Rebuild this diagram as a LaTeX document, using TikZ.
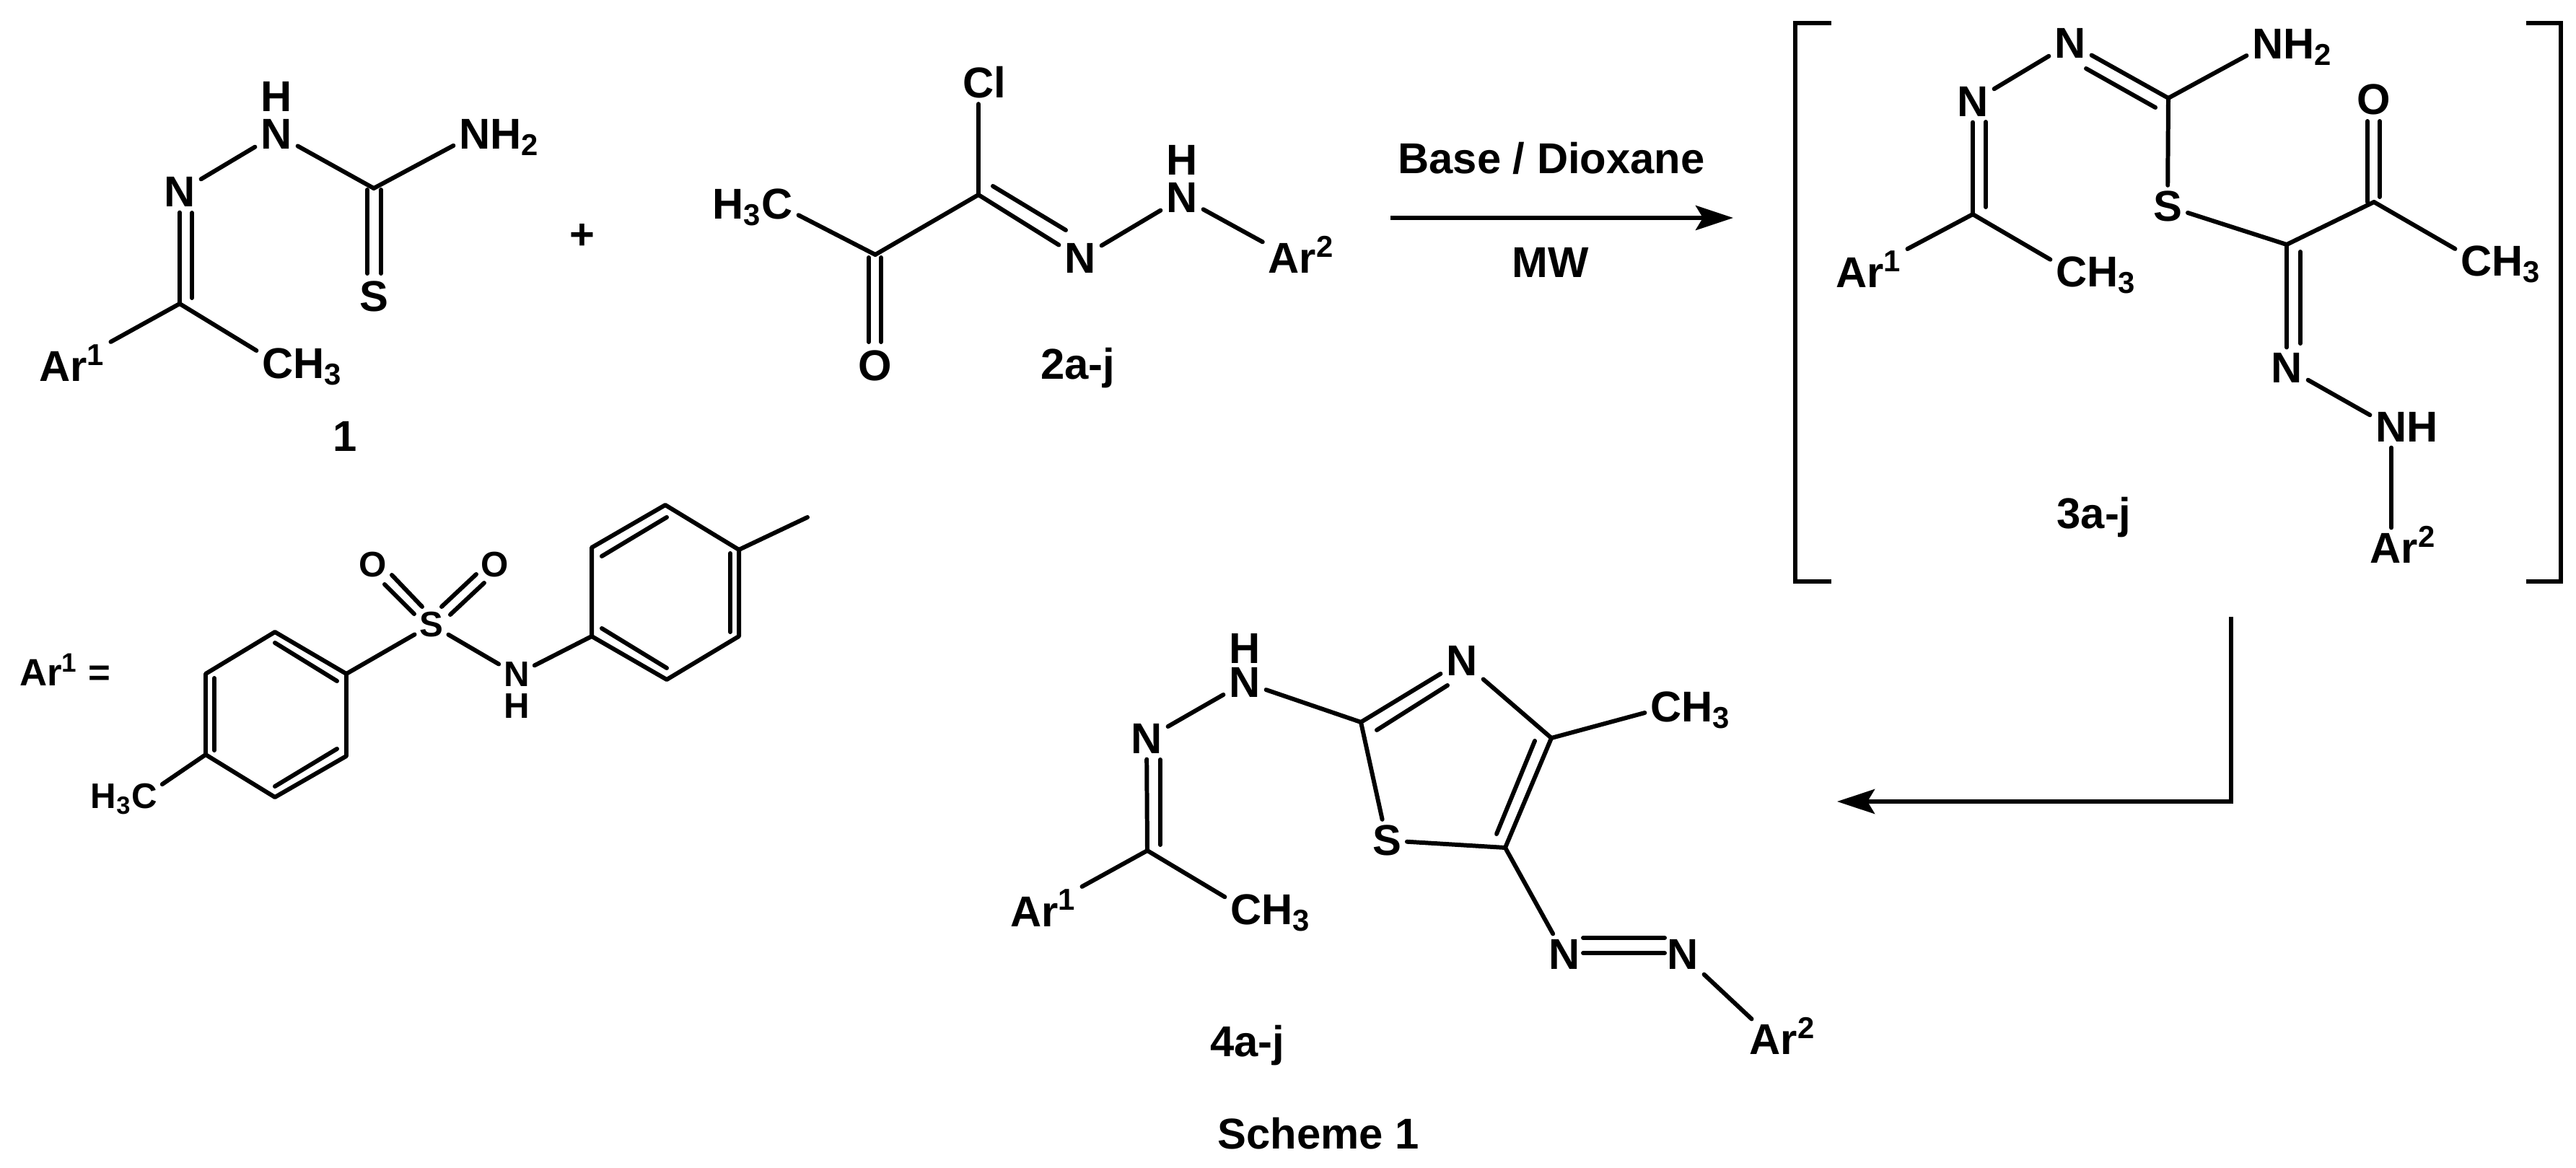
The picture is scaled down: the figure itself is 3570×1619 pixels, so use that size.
\documentclass[tikz,border=0pt]{standalone}
\usepackage{fontspec}
\setmainfont{Liberation Sans}
\usetikzlibrary{arrows.meta}
\newcommand{\aft}[1]{\smash{\rlap{#1}}}
\newcommand{\bef}[1]{\smash{\llap{#1}}}
\newcommand{\sbs}[1]{\textsubscript{#1}}
\newcommand{\sps}[1]{\textsuperscript{#1}}
\tikzset{
    atom/.style={inner sep=0.08cm, outer sep=0pt, font=\fontsize{17}{20}\selectfont\bfseries},
    atomsm/.style={inner sep=0.07cm, outer sep=0pt, font=\fontsize{14}{17}\selectfont\bfseries},
    hatom/.style={atom, inner sep=0pt},
    hatomsm/.style={atomsm, inner sep=0pt},
    arone/.style={atom, anchor=base west},
    lbl/.style={inner sep=0pt, anchor=base, font=\fontsize{17}{20}\selectfont\bfseries},
    bond/.style={line width=1.7pt, line cap=round, line join=round},
    rxn/.style={line width=1.7pt, -{Stealth[length=0.52cm, width=0.34cm, inset=0.1cm]}}
}
\begin{document}
\begin{tikzpicture}[x=0.01cm, y=-0.01cm]
    \useasboundingbox (0,0) rectangle (3570,1619);

    % thiosemicarbazone 1
    \coordinate (ca) at (249,421);
    \coordinate (cb) at (518,261);
    \node[atom] (na) at (249,266) {N};
    \node[atom] (nb) at (383,186) {N};
    \node[hatom] (hb) at (383,134) {H};
    \node[atom] (nc) at (658,186) {N\aft{H\sbs{2}}};
    \node[atom] (sa) at (518,411) {S};
    \node[arone] (ara) at (46,529) {Ar\sps{1}};
    \node[atom] (mea) at (385,504) {C\aft{H\sbs{3}}};
    \node[lbl] (la) at (478,626) {1};
    \node[lbl] (plus) at (807,346) {+};
    \draw[bond] (ca) -- (na);
    \coordinate (da) at (266,295);
    \coordinate (db) at (266,413);
    \draw[bond] (da) -- (db);
    \draw[bond] (na) -- (nb);
    \draw[bond] (nb) -- (cb);
    \draw[bond] (cb) -- (nc);
    \coordinate (dc) at (509,263);
    \coordinate (dd) at (509,379);
    \coordinate (de) at (528,263);
    \coordinate (df) at (528,379);
    \draw[bond] (dc) -- (dd);
    \draw[bond] (de) -- (df);
    \draw[bond] (ca) -- (ara);
    \draw[bond] (ca) -- (mea);

    % hydrazonoyl chloride 2
    \coordinate (cc) at (1213,353);
    \coordinate (cd) at (1356,270);
    \node[atom] (mec) at (1077,283) {\bef{H\sbs{3}}C};
    \node[atom] (cl) at (1356,115) {C\aft{l}};
    \node[atom] (ob) at (1213,507) {O};
    \node[atom] (nd) at (1497,358) {N};
    \node[atom] (ne) at (1638,274) {N};
    \node[hatom] (he) at (1638,222) {H};
    \node[atom] (arb) at (1791,358) {Ar\aft{\sps{2}}};
    \node[lbl] (lb) at (1494,526) {2a-j};
    \draw[bond] (mec) -- (cc);
    \draw[bond] (cc) -- (cd);
    \draw[bond] (cd) -- (cl);
    \draw[bond] (cd) -- (nd);
    \coordinate (dg) at (1376,258);
    \coordinate (dh) at (1477,319);
    \draw[bond] (dg) -- (dh);
    \draw[bond] (nd) -- (ne);
    \draw[bond] (ne) -- (arb);
    \coordinate (di) at (1204,357);
    \coordinate (dj) at (1204,474);
    \coordinate (dk) at (1221,357);
    \coordinate (dl) at (1221,474);
    \draw[bond] (di) -- (dj);
    \draw[bond] (dk) -- (dl);

    % first arrow
    \coordinate (ra) at (1927,302);
    \coordinate (rb) at (2402,302);
    \draw[rxn] (ra) -- (rb);
    \node[lbl] (base) at (2150,241) {Base / Dioxane};
    \node[lbl] (mw) at (2149,385) {MW};

    % intermediate 3 in brackets
    \coordinate (bra) at (2538,32);
    \coordinate (brb) at (2488,806);
    \coordinate (brc) at (2538,806);
    \coordinate (brd) at (3501,32);
    \coordinate (bre) at (3549,806);
    \coordinate (brf) at (3501,806);
    \draw[bond, line cap=butt, line join=miter] (bra) -| (brb) -- (brc);
    \draw[bond, line cap=butt, line join=miter] (brd) -| (bre) -- (brf);
    \coordinate (ce) at (2734,297);
    \coordinate (cf) at (3005,136);
    \coordinate (cg) at (3169,339);
    \coordinate (ch) at (3290,280);
    \node[atom] (nf) at (2734,141) {N};
    \node[atom] (ng) at (2869,60) {N};
    \node[atom] (nh) at (3143,61) {N\aft{H\sbs{2}}};
    \node[atom] (sb) at (3004,286) {S};
    \node[atom] (oc) at (3290,138) {O};
    \node[atom] (med) at (3432,362) {C\aft{H\sbs{3}}};
    \node[atom] (ni) at (3169,510) {N};
    \node[atom] (nj) at (3314,592) {N\aft{H}};
    \node[atom] (arc) at (3318,760) {Ar\aft{\sps{2}}};
    \node[arone] (ard) at (2536,399) {Ar\sps{1}};
    \node[atom] (mee) at (2871,377) {C\aft{H\sbs{3}}};
    \node[lbl] (lc) at (2902,732) {3a-j};
    \draw[bond] (ce) -- (nf);
    \coordinate (dm) at (2752,169);
    \coordinate (dn) at (2752,287);
    \draw[bond] (dm) -- (dn);
    \draw[bond] (nf) -- (ng);
    \draw[bond] (ng) -- (cf);
    \coordinate (do) at (2891,95);
    \coordinate (dp) at (2987,149);
    \draw[bond] (do) -- (dp);
    \draw[bond] (cf) -- (nh);
    \draw[bond] (cf) -- (sb);
    \draw[bond] (sb) -- (cg);
    \draw[bond] (cg) -- (ch);
    \draw[bond] (cg) -- (ni);
    \coordinate (dq) at (3188,349);
    \coordinate (dr) at (3188,476);
    \draw[bond] (dq) -- (dr);
    \coordinate (ds) at (3281,168);
    \coordinate (dt) at (3281,280);
    \coordinate (du) at (3298,168);
    \coordinate (dv) at (3298,273);
    \draw[bond] (ds) -- (dt);
    \draw[bond] (du) -- (dv);
    \draw[bond] (ch) -- (med);
    \draw[bond] (ni) -- (nj);
    \draw[bond] (nj.south) -- (nj.south |- arc.north);
    \draw[bond] (ce) -- (ard);
    \draw[bond] (ce) -- (mee);

    % second arrow
    \coordinate (rc) at (3092,855);
    \coordinate (rd) at (2546,1111);
    \draw[rxn] (rc) |- (rd);

    % definition of Ar1
    \node[atomsm, anchor=base west, font=\fontsize{15}{18}\selectfont\bfseries] (arx) at (20,950) {Ar\sps{1} =};
    \coordinate (ra1) at (381,876);
    \coordinate (ra2) at (480,934);
    \coordinate (ra3) at (480,1048);
    \coordinate (ra4) at (381,1105);
    \coordinate (ra5) at (285,1046);
    \coordinate (ra6) at (285,934);
    \draw[bond] (ra1) -- (ra2) -- (ra3) -- (ra4) -- (ra5) -- (ra6) -- cycle;
    \coordinate (ia1) at (381,891);
    \coordinate (ia2) at (467,944);
    \coordinate (ia3) at (297,940);
    \coordinate (ia4) at (297,1040);
    \coordinate (ia5) at (381,1090);
    \coordinate (ia6) at (467,1038);
    \draw[bond] (ia1) -- (ia2);
    \draw[bond] (ia3) -- (ia4);
    \draw[bond] (ia5) -- (ia6);
    \node[atomsm] (mef) at (200,1104) {\bef{H\sbs{3}}C};
    \node[atomsm] (sc) at (598,866) {S};
    \node[atomsm] (od) at (517,783) {O};
    \node[atomsm] (oe) at (686,783) {O};
    \node[atomsm] (nk) at (716,935) {N};
    \node[hatomsm] (hk) at (716,979) {H};
    \draw[bond] (ra5) -- (mef);
    \draw[bond] (ra2) -- (sc);
    \draw[bond] (sc) -- (nk);
    \coordinate (ea) at (533,810);
    \coordinate (eb) at (574,851);
    \coordinate (ec) at (543,797);
    \coordinate (ed) at (585,841);
    \coordinate (ee) at (612,841);
    \coordinate (ef) at (660,796);
    \coordinate (eg) at (624,852);
    \coordinate (eh) at (671,808);
    \draw[bond] (ea) -- (eb);
    \draw[bond] (ec) -- (ed);
    \draw[bond] (ee) -- (ef);
    \draw[bond] (eg) -- (eh);
    \coordinate (rb1) at (820,882);
    \coordinate (rb2) at (820,759);
    \coordinate (rb3) at (922,700);
    \coordinate (rb4) at (1024,762);
    \coordinate (rb5) at (1024,882);
    \coordinate (rb6) at (924,942);
    \coordinate (meg) at (1119,717);
    \draw[bond] (rb1) -- (rb2) -- (rb3) -- (rb4) -- (rb5) -- (rb6) -- cycle;
    \draw[bond] (nk) -- (rb1);
    \draw[bond] (rb4) -- (meg);
    \coordinate (ib1) at (834,771);
    \coordinate (ib2) at (924,717);
    \coordinate (ib3) at (1012,767);
    \coordinate (ib4) at (1012,876);
    \coordinate (ib5) at (834,871);
    \coordinate (ib6) at (924,926);
    \draw[bond] (ib1) -- (ib2);
    \draw[bond] (ib3) -- (ib4);
    \draw[bond] (ib5) -- (ib6);

    % thiazole product 4
    \coordinate (ci) at (1590,1179);
    \coordinate (cj) at (1886,1001);
    \coordinate (ck) at (2150,1023);
    \coordinate (cm) at (2086,1175);
    \node[atom] (nm) at (1589,1024) {N};
    \node[atom] (nn) at (1725,946) {N};
    \node[hatom] (hn) at (1725,899) {H};
    \node[atom] (no) at (2026,916) {N};
    \node[atom] (sd) at (1922,1165) {S};
    \node[atom] (meh) at (2309,980) {C\aft{H\sbs{3}}};
    \node[atom] (np) at (2168,1323) {N};
    \node[atom] (nq) at (2332,1323) {N};
    \node[atom] (are) at (2458,1441) {Ar\aft{\sps{2}}};
    \node[arone] (arf) at (1392,1284) {Ar\sps{1}};
    \node[atom] (mei) at (1727,1261) {C\aft{H\sbs{3}}};
    \node[lbl] (ld) at (1729,1464) {4a-j};
    \node[lbl] (title) at (1827,1592) {Scheme 1};
    \draw[bond] (ci) -- (nm);
    \coordinate (fa) at (1608,1053);
    \coordinate (fb) at (1608,1171);
    \draw[bond] (fa) -- (fb);
    \draw[bond] (nm) -- (nn);
    \draw[bond] (nn) -- (cj);
    \draw[bond] (cj) -- (no);
    \coordinate (fc) at (1908,1012);
    \coordinate (fd) at (2006,950);
    \draw[bond] (fc) -- (fd);
    \draw[bond] (no) -- (ck);
    \draw[bond] (ck) -- (meh);
    \draw[bond] (ck) -- (cm);
    \coordinate (fe) at (2127,1027);
    \coordinate (ff) at (2074,1156);
    \draw[bond] (fe) -- (ff);
    \draw[bond] (cj) -- (sd);
    \draw[bond] (sd) -- (cm);
    \draw[bond] (cm) -- (np);
    \coordinate (fg) at (2194,1300);
    \coordinate (fh) at (2307,1300);
    \coordinate (fi) at (2194,1321);
    \coordinate (fj) at (2307,1321);
    \draw[bond] (fg) -- (fh);
    \draw[bond] (fi) -- (fj);
    \draw[bond] (nq) -- (are);
    \draw[bond] (ci) -- (arf);
    \draw[bond] (ci) -- (mei);
\end{tikzpicture}
\end{document}
